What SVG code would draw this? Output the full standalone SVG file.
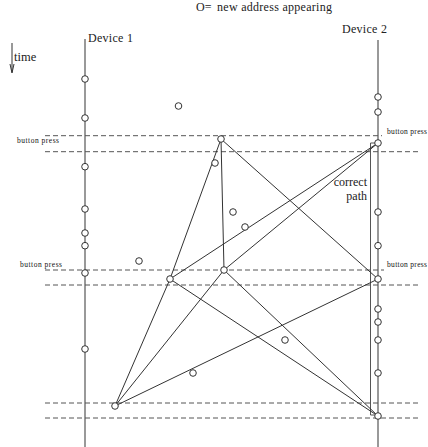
<svg xmlns="http://www.w3.org/2000/svg" width="428" height="447" viewBox="0 0 428 447">
<defs>
<style>
.t{font-family:"Liberation Serif","Times New Roman",serif;fill:#222}
.s{font-family:"Liberation Serif","Times New Roman",serif;fill:#111;font-size:7.5px}
.dl{stroke:#555;stroke-width:1;stroke-dasharray:5,3;fill:none}
.ax{stroke:#555;stroke-width:1.2;fill:none}
.e{stroke:#333;stroke-width:1;fill:none}
.c{stroke:#333;stroke-width:1;fill:#fff}
</style>
</defs>
<rect width="428" height="447" fill="#fff"/>

<g id="legend">
<text class="t" x="196" y="11" font-size="12">O=</text>
<text class="t" x="217" y="11" font-size="12" textLength="115">new address appearing</text>
</g>
<g id="time">
<line x1="12" y1="43" x2="12" y2="72" stroke="#333" stroke-width="1"/>
<path d="M10,64 L12,73 L14,64" fill="none" stroke="#333" stroke-width="1"/>
<text class="t" x="14" y="61" font-size="12.5">time</text>
</g>

<g id="guides">
<line class="dl" x1="45" y1="135.7" x2="382" y2="135.7"/>
<line class="dl" x1="45" y1="151.7" x2="419" y2="151.7"/>
<line class="dl" x1="45" y1="270" x2="384" y2="270"/>
<line class="dl" x1="45" y1="285" x2="419" y2="285"/>
<line class="dl" x1="45" y1="403" x2="419" y2="403"/>
<line class="dl" x1="45" y1="418" x2="419" y2="418"/>
<text class="s" x="17" y="142.5" textLength="42">button press</text>
<text class="s" x="20" y="266.5" textLength="42">button press</text>
<text class="s" x="387" y="133.5" textLength="40">button press</text>
<text class="s" x="387" y="266.5" textLength="40">button press</text>
</g>

<g id="device1">
<line class="ax" x1="85" y1="39" x2="85" y2="447"/>
<text class="t" x="88" y="42" font-size="12" textLength="45">Device 1</text>
<circle class="c" cx="85" cy="79" r="3.3"/>
<circle class="c" cx="85" cy="118" r="3.3"/>
<circle class="c" cx="85" cy="166.7" r="3.3"/>
<circle class="c" cx="85" cy="209" r="3.3"/>
<circle class="c" cx="85" cy="233" r="3.3"/>
<circle class="c" cx="85" cy="245.7" r="3.3"/>
<circle class="c" cx="85" cy="273" r="3.3"/>
<circle class="c" cx="85" cy="349" r="3.3"/>
</g>

<g id="device2">
<line class="ax" x1="378" y1="40" x2="378" y2="447"/>
<text class="t" x="342" y="33" font-size="12" textLength="45">Device 2</text>
<circle class="c" cx="378" cy="97" r="3.3"/>
<circle class="c" cx="378" cy="112" r="3.3"/>
<circle class="c" cx="378" cy="212" r="3.3"/>
<circle class="c" cx="378" cy="245.7" r="3.3"/>
<circle class="c" cx="378" cy="309" r="3.3"/>
<circle class="c" cx="378" cy="322" r="3.3"/>
<circle class="c" cx="378" cy="340" r="3.3"/>
<circle class="c" cx="378" cy="373" r="3.3"/>
</g>

<g id="correct-path">
<polyline points="377,143 370.5,143 370.5,415 377,415" fill="none" stroke="#555" stroke-width="1"/>
<text class="t" x="367" y="186" font-size="12" text-anchor="end">correct</text>
<text class="t" x="367" y="200" font-size="12" text-anchor="end">path</text>
</g>

<g id="connectors">
<line class="e" x1="221" y1="139" x2="170" y2="279"/>
<line class="e" x1="221" y1="139" x2="224" y2="270"/>
<line class="e" x1="221" y1="139" x2="378" y2="279"/>
<line class="e" x1="378" y1="143" x2="170" y2="279"/>
<line class="e" x1="378" y1="143" x2="224" y2="270"/>
<line class="e" x1="170" y1="279" x2="115" y2="406"/>
<line class="e" x1="224" y1="270" x2="115" y2="406"/>
<line class="e" x1="115" y1="406" x2="378" y2="279"/>
<line class="e" x1="170" y1="279" x2="378" y2="416"/>
<line class="e" x1="224" y1="270" x2="378" y2="416"/>
</g>

<g id="nodeA"><circle class="c" cx="221" cy="139" r="3.3" fill="none"/></g>
<g id="nodeB"><circle class="c" cx="378" cy="143" r="3.3"/></g>
<g id="nodeC"><circle class="c" cx="170" cy="279" r="3.3" fill="none"/></g>
<g id="nodeD"><circle class="c" cx="224" cy="270" r="3.3" fill="none"/></g>
<g id="nodeE"><circle class="c" cx="378" cy="279" r="3.3"/></g>
<g id="nodeF"><circle class="c" cx="115" cy="406" r="3.3" fill="none"/></g>
<g id="nodeG"><circle class="c" cx="378" cy="416" r="3.3"/></g>

<g id="free-addresses">
<circle class="c" cx="178.5" cy="106" r="3.3"/>
<circle class="c" cx="215" cy="163" r="3.3"/>
<circle class="c" cx="233" cy="212" r="3.3"/>
<circle class="c" cx="245" cy="227" r="3.3"/>
<circle class="c" cx="139" cy="261" r="3.3"/>
<circle class="c" cx="193" cy="373" r="3.3"/>
<circle class="c" cx="285" cy="340" r="3.3"/>
</g>
</svg>
